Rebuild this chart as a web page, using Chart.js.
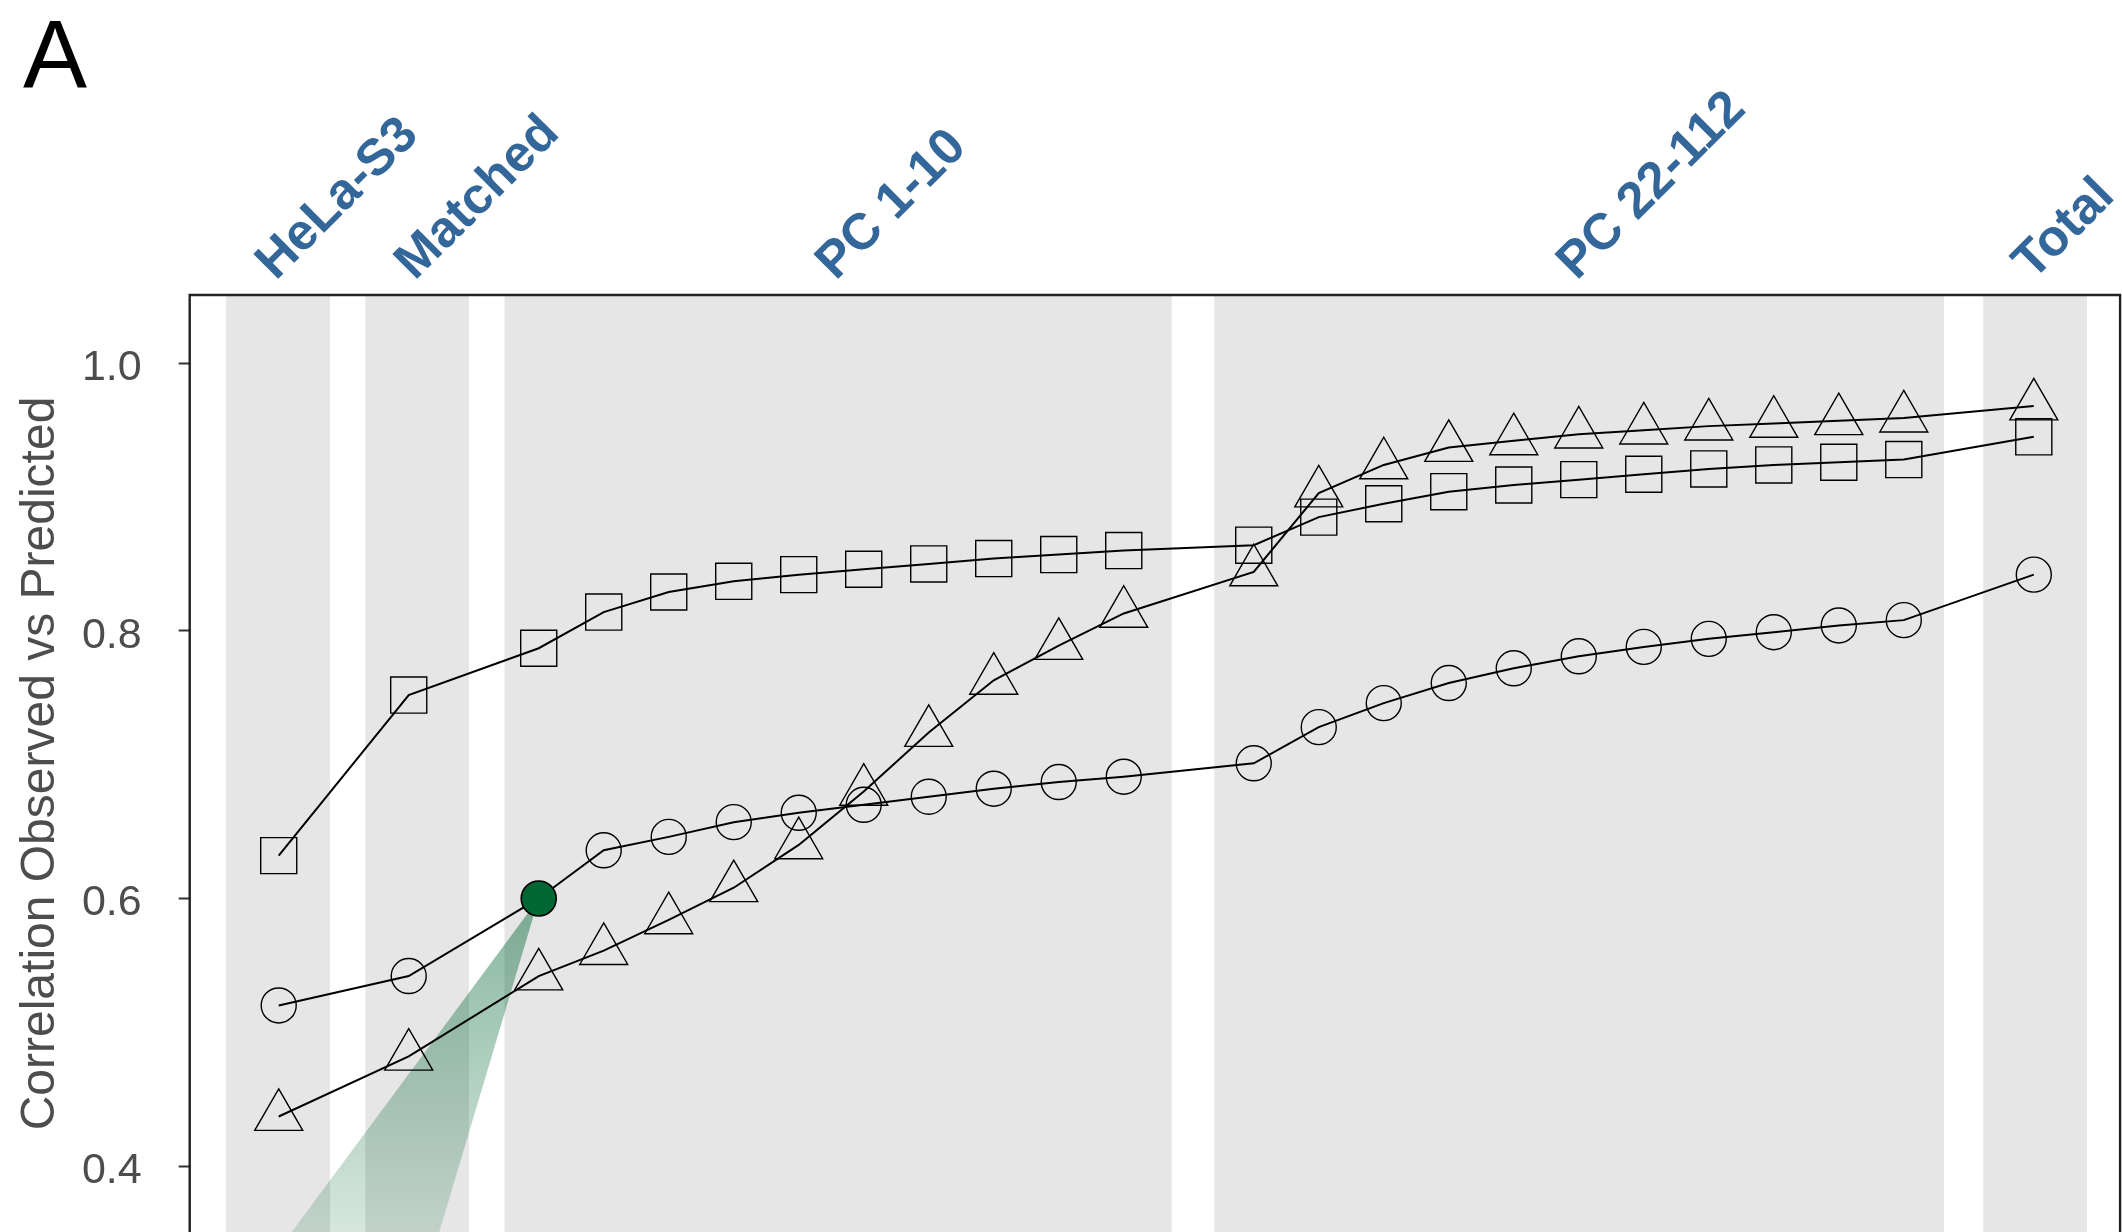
<!DOCTYPE html>
<html>
<head>
<meta charset="utf-8">
<script src="https://cdn.jsdelivr.net/npm/chart.js@4"></script>
<style>
  html, body { margin: 0; padding: 0; background: #ffffff; }
  canvas { display: block; }
</style>
</head>
<body>
<canvas id="chart" width="2122" height="1232"></canvas>
<script>
// ---- Data ----

const GROUP_LABELS = ['HeLa-S3', 'Matched', 'PC 1-10', 'PC 22-112', 'Total'];
const GROUP_START  = [-0.81, 1.33, 3.47, 14.39, 26.22];
const GROUP_END    = [ 0.79, 2.93, 13.74, 25.62, 27.82];

// x position of each model along the axis
const X_POS = [0, 2, 4, 5, 6, 7, 8, 9, 10, 11, 12, 13, 15, 16, 17, 18, 19, 20, 21, 22, 23, 24, 25, 27];

const SQUARES   = [0.632, 0.752, 0.787, 0.814, 0.829, 0.837, 0.842, 0.846, 0.850, 0.854, 0.857, 0.860,
                   0.864, 0.885, 0.895, 0.904, 0.909, 0.913, 0.917, 0.921, 0.924, 0.926, 0.928, 0.945];
const CIRCLES   = [0.520, 0.542, 0.600, 0.636, 0.646, 0.657, 0.664, 0.670, 0.676, 0.682, 0.687, 0.691,
                   0.701, 0.728, 0.746, 0.761, 0.772, 0.781, 0.788, 0.794, 0.799, 0.804, 0.808, 0.842];
const TRIANGLES = [0.437, 0.482, 0.542, 0.561, 0.584, 0.608, 0.640, 0.680, 0.724, 0.763, 0.789, 0.813,
                   0.844, 0.903, 0.924, 0.937, 0.942, 0.947, 0.950, 0.953, 0.955, 0.957, 0.959, 0.968];

const HIGHLIGHT = 2;              // index of the filled green circle
const CONE_BASE = [0.2, 2.47];    // x where the highlight cone leaves the plot

const Y_TICKS = [0.4, 0.6, 0.8, 1.0];
const X_RANGE = [-1.354, 28.32];
const Y_RANGE = [0.3507, 1.051];

// ---- Helpers ----

const FONT = '"Liberation Sans", Arial, Helvetica, sans-serif';
const pts  = ys => ys.map((y, i) => ({ x: X_POS[i], y }));

function seriesDataset(values, style, radius) {
  return {
    data: pts(values),
    showLine: true,
    borderColor: '#000',
    borderWidth: 2,
    pointStyle: style,
    pointRadius: radius,
    pointBorderColor: '#000',
    pointBorderWidth: 1.4,
    pointBackgroundColor: 'rgba(0,0,0,0)',
    order: 0,
  };
}

// grey background band per group, filled down to the axis start
const bandDatasets = GROUP_LABELS.map((_, i) => ({
  data: [{ x: GROUP_START[i], y: Y_RANGE[1] }, { x: GROUP_END[i], y: Y_RANGE[1] }],
  showLine: true,
  borderWidth: 0,
  pointRadius: 0,
  fill: 'start',
  backgroundColor: '#e6e6e6',
  order: 10,
}));

const apex = { x: X_POS[HIGHLIGHT], y: CIRCLES[HIGHLIGHT] };

const coneDataset = {
  data: [apex, { x: CONE_BASE[0], y: Y_RANGE[0] }, { x: CONE_BASE[1], y: Y_RANGE[0] }, apex],
  showLine: true,
  borderWidth: 0,
  pointRadius: 0,
  fill: 'shape',
  backgroundColor: ctx => {
    const chart = ctx.chart;
    const area  = chart.chartArea;
    if (!area) return 'rgba(0,102,51,0.3)';
    const top = chart.scales.y.getPixelForValue(apex.y);
    const g = chart.ctx.createLinearGradient(0, top, 0, area.bottom);
    g.addColorStop(0, 'rgba(0,102,51,0.47)');
    g.addColorStop(1, 'rgba(0,102,51,0.16)');
    return g;
  },
  order: 5,
};

const circleDataset = seriesDataset(CIRCLES, 'circle', 17.5);
circleDataset.pointBackgroundColor = ctx => ctx.dataIndex === HIGHLIGHT ? '#006633' : 'rgba(0,0,0,0)';
circleDataset.pointBorderWidth = ctx => ctx.dataIndex === HIGHLIGHT ? 1.6 : 1.4;

// left / top / right frame around the plot region, plus the panel letter
const framePlugin = {
  id: 'frame',
  afterDatasetsDraw(chart) {
    const { ctx, chartArea: a } = chart;
    ctx.save();
    ctx.strokeStyle = '#222';
    ctx.lineWidth = 2.4;
    ctx.beginPath();
    ctx.moveTo(a.left - 1, chart.height + 2);
    ctx.lineTo(a.left - 1, a.top);
    ctx.lineTo(a.right + 0.5, a.top);
    ctx.lineTo(a.right + 0.5, chart.height + 2);
    ctx.stroke();

    ctx.fillStyle = '#000';
    ctx.font = `96px ${FONT}`;
    ctx.textBaseline = 'alphabetic';
    ctx.fillText('A', 23, 87);
    ctx.restore();
  },
};

new Chart(document.getElementById('chart'), {
  type: 'scatter',
  data: {
    datasets: [
      seriesDataset(SQUARES, 'rect', 25.5),
      circleDataset,
      seriesDataset(TRIANGLES, 'triangle', 27.7),
      coneDataset,
      ...bandDatasets,
    ],
  },
  options: {
    responsive: false,
    animation: false,
    devicePixelRatio: 1,
    layout: { autoPadding: false, padding: { top: 0, left: 0, right: 2.4, bottom: 0 } },
    plugins: {
      legend:  { display: false },
      tooltip: { enabled: false },
    },
    scales: {
      x: {
        type: 'linear',
        min: X_RANGE[0],
        max: X_RANGE[1],
        display: false,
      },
      x2: {
        type: 'linear',
        position: 'top',
        min: X_RANGE[0],
        max: X_RANGE[1],
        grid:   { display: false },
        border: { display: false },
        afterBuildTicks: s => {
          s.ticks = GROUP_START.map((v, i) => ({ value: (v + GROUP_END[i]) / 2 }));
        },
        afterFit: s => { s.height = 295; s.paddingLeft = 0; s.paddingRight = 0; },
        ticks: {
          autoSkip: false,
          minRotation: 45,
          maxRotation: 45,
          padding: -6,
          labelOffset: 31,
          color: '#336699',
          font: { family: FONT, size: 51, weight: 'bold' },
          callback: (v, i) => GROUP_LABELS[i],
        },
      },
      y: {
        min: Y_RANGE[0],
        max: Y_RANGE[1],
        afterBuildTicks: s => { s.ticks = Y_TICKS.map(v => ({ value: v })); },
        afterFit: s => { s.width = 190.7; s.paddingTop = 0; s.paddingBottom = 0; },
        border: { display: false },
        grid: {
          drawOnChartArea: false,
          drawTicks: true,
          tickLength: 12,
          tickWidth: 2,
          tickColor: '#333',
        },
        ticks: {
          padding: 37,
          labelOffset: 5,
          color: '#4d4d4d',
          font: { family: FONT, size: 43 },
          callback: v => v.toFixed(1),
        },
        title: {
          display: true,
          text: 'Correlation Observed vs Predicted',
          color: '#4d4d4d',
          font: { family: FONT, size: 48 },
          padding: { top: 12, bottom: 0 },
        },
      },
    },
  },
  plugins: [framePlugin],
});
</script>
</body>
</html>
